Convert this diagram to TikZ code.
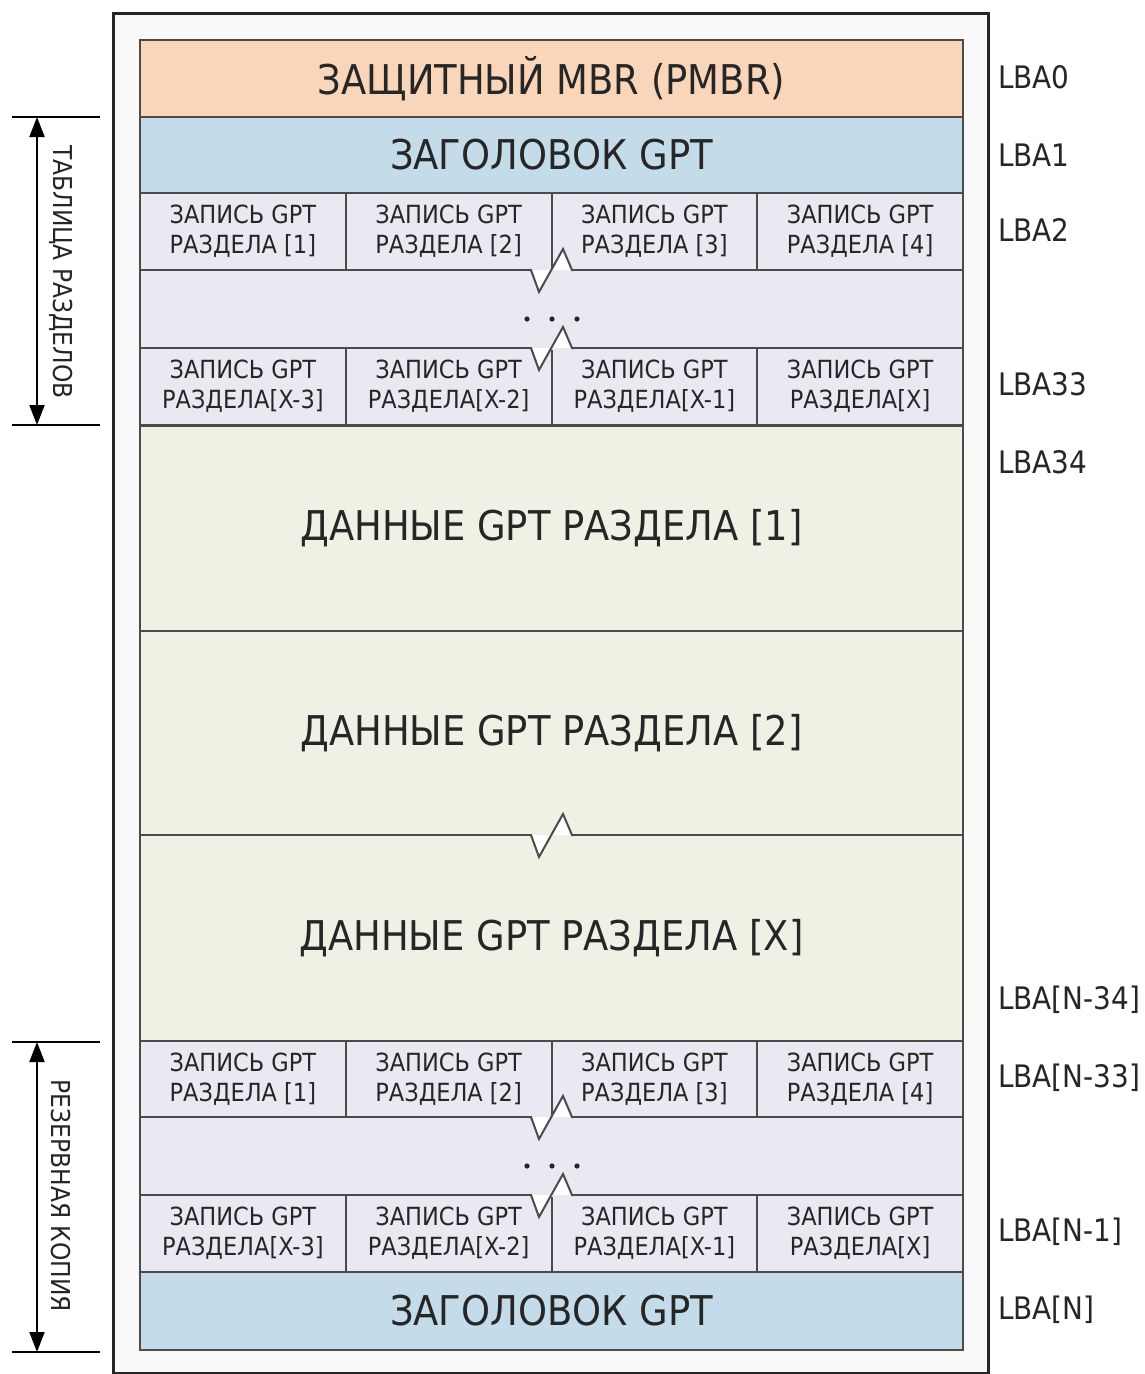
\documentclass[tikz,border=0pt]{standalone}
\usepackage{fontspec}
\setmainfont{DejaVu Sans Condensed}
\usetikzlibrary{arrows.meta}

\definecolor{pmbrfill}{RGB}{249,214,186}
\definecolor{hdrfill}{RGB}{196,219,233}
\definecolor{entfill}{RGB}{234,233,241}
\definecolor{datafill}{RGB}{240,241,229}
\definecolor{framebg}{RGB}{249,249,249}
\definecolor{edge}{RGB}{75,75,75}
\definecolor{ink}{RGB}{38,38,38}

\tikzset{
  cell/.style={draw=edge, line width=2pt, inner sep=0pt, outer sep=0pt,
    text=ink, align=center, anchor=north west},
  bigtxt/.style={font=\fontsize{41}{44}\selectfont},
  smalltxt/.style={font=\fontsize{25}{30}\selectfont},
  lbatxt/.style={font=\fontsize{31}{34}\selectfont, text=ink, anchor=west, inner sep=0pt},
  sidetxt/.style={font=\fontsize{26}{28}\selectfont, text=ink, rotate=-90, inner sep=0pt},
  wide/.style={cell, minimum width=823pt},
  entry/.style={cell, fill=entfill, smalltxt, minimum width=205.75pt, minimum height=77pt},
  zig/.style={draw=edge, line width=2pt, line join=miter},
  dim/.style={draw=black, line width=2pt},
  dimarrow/.style={draw=black, line width=2pt, {Triangle[length=20pt,width=15pt]}-{Triangle[length=20pt,width=15pt]}},
}

% four table entries of one row: #1 top y, #2 name prefix, #3..#6 texts
\newcommand{\entryrow}[6]{%
  \node[entry] (#2a) at (140,#1) {#3};
  \node[entry] (#2b) at (345.75,#1) {#4};
  \node[entry] (#2c) at (551.5,#1) {#5};
  \node[entry] (#2d) at (757.25,#1) {#6};
}
% break in a horizontal border: #1 y of the border, #2 fill colour
\newcommand{\breakmark}[2]{%
  \draw[#2, line width=4pt] (531,#1) -- (571,#1);
  \fill[white] (531,#1) -- (539,#1+22) -- (551,#1) -- cycle;
  \fill[white] (551,#1) -- (563,#1-21) -- (572,#1) -- cycle;
  \draw[zig] (529,#1) -- (531,#1) -- (539,#1+22) -- (563,#1-21) -- (572,#1) -- (574,#1);
}

\begin{document}
\begin{tikzpicture}[x=1pt,y=-1pt]
\useasboundingbox[fill=white] (0,0) rectangle (1144,1374);

% outer frame of the disk
\draw[fill=framebg, line width=3pt, draw=black!85] (113,13) rectangle (988,1373);

% protective MBR and primary header
\node[wide, fill=pmbrfill, bigtxt, minimum height=77pt] (pmbr) at (140,40) {ЗАЩИТНЫЙ MBR (PMBR)};
\node[wide, fill=hdrfill, bigtxt, minimum height=76pt] (hdr) at (140,117) {ЗАГОЛОВОК GPT};

% primary partition table
\entryrow{193}{pa}{ЗАПИСЬ GPT\\РАЗДЕЛА [1]}{ЗАПИСЬ GPT\\РАЗДЕЛА [2]}{ЗАПИСЬ GPT\\РАЗДЕЛА [3]}{ЗАПИСЬ GPT\\РАЗДЕЛА [4]}
\node[wide, fill=entfill, minimum height=78pt] (pgap) at (140,270) {};
\entryrow{348}{pb}{ЗАПИСЬ GPT\\РАЗДЕЛА[X-3]}{ЗАПИСЬ GPT\\РАЗДЕЛА[X-2]}{ЗАПИСЬ GPT\\РАЗДЕЛА[X-1]}{ЗАПИСЬ GPT\\РАЗДЕЛА[X]}

% partition data
\node[wide, fill=datafill, bigtxt, minimum height=205pt] (d1) at (140,426) {ДАННЫЕ GPT РАЗДЕЛА [1]};
\node[wide, fill=datafill, bigtxt, minimum height=204pt] (d2) at (140,631) {ДАННЫЕ GPT РАЗДЕЛА [2]};
\node[wide, fill=datafill, bigtxt, minimum height=206pt] (dx) at (140,835) {ДАННЫЕ GPT РАЗДЕЛА [X]};

% backup partition table
\entryrow{1041}{ba}{ЗАПИСЬ GPT\\РАЗДЕЛА [1]}{ЗАПИСЬ GPT\\РАЗДЕЛА [2]}{ЗАПИСЬ GPT\\РАЗДЕЛА [3]}{ЗАПИСЬ GPT\\РАЗДЕЛА [4]}
\node[wide, fill=entfill, minimum height=78pt] (bgap) at (140,1117) {};
\entryrow{1195}{bb}{ЗАПИСЬ GPT\\РАЗДЕЛА[X-3]}{ЗАПИСЬ GPT\\РАЗДЕЛА[X-2]}{ЗАПИСЬ GPT\\РАЗДЕЛА[X-1]}{ЗАПИСЬ GPT\\РАЗДЕЛА[X]}

% backup header
\node[wide, fill=hdrfill, bigtxt, minimum height=78pt] (bhdr) at (140,1272) {ЗАГОЛОВОК GPT};

% omitted entries
\foreach \yy in {319,1166}{
  \foreach \xx in {527,552,577}
    \fill[ink] (\xx,\yy) circle (2.6pt);
}

% breaks in the sequences
\breakmark{270}{entfill}
\breakmark{348}{entfill}
\breakmark{835}{datafill}
\breakmark{1117}{entfill}
\breakmark{1195}{entfill}

% LBA addresses
\node[lbatxt] (l0) at (998,77) {LBA0};
\node[lbatxt] (l1) at (998,155) {LBA1};
\node[lbatxt] (l2) at (998,230) {LBA2};
\node[lbatxt] (l33) at (998,384) {LBA33};
\node[lbatxt] (l34) at (998,462) {LBA34};
\node[lbatxt] (ln34) at (998,1000) {LBA[N-34]};
\node[lbatxt] (ln33) at (998,1078) {LBA[N-33]};
\node[lbatxt] (ln1) at (998,1232) {LBA[N-1]};
\node[lbatxt] (ln) at (998,1310) {LBA[N]};

% dimension brackets on the left
\coordinate (t1) at (12,117);  \coordinate (t1e) at (100,117);
\coordinate (t2) at (12,425);  \coordinate (t2e) at (100,425);
\coordinate (t1a) at (37,117); \coordinate (t2a) at (37,425);
\draw[dim] (t1) -- (t1e);
\draw[dim] (t2) -- (t2e);
\draw[dimarrow] (t1a) -- (t2a);
\node[sidetxt] (tbl) at (61,272) {ТАБЛИЦА РАЗДЕЛОВ};

\coordinate (b1) at (12,1042);  \coordinate (b1e) at (100,1042);
\coordinate (b2) at (12,1352);  \coordinate (b2e) at (100,1352);
\coordinate (b1a) at (37,1042); \coordinate (b2a) at (37,1352);
\draw[dim] (b1) -- (b1e);
\draw[dim] (b2) -- (b2e);
\draw[dimarrow] (b1a) -- (b2a);
\node[sidetxt] (bak) at (61,1196) {РЕЗЕРВНАЯ КОПИЯ};
\end{tikzpicture}
\end{document}
